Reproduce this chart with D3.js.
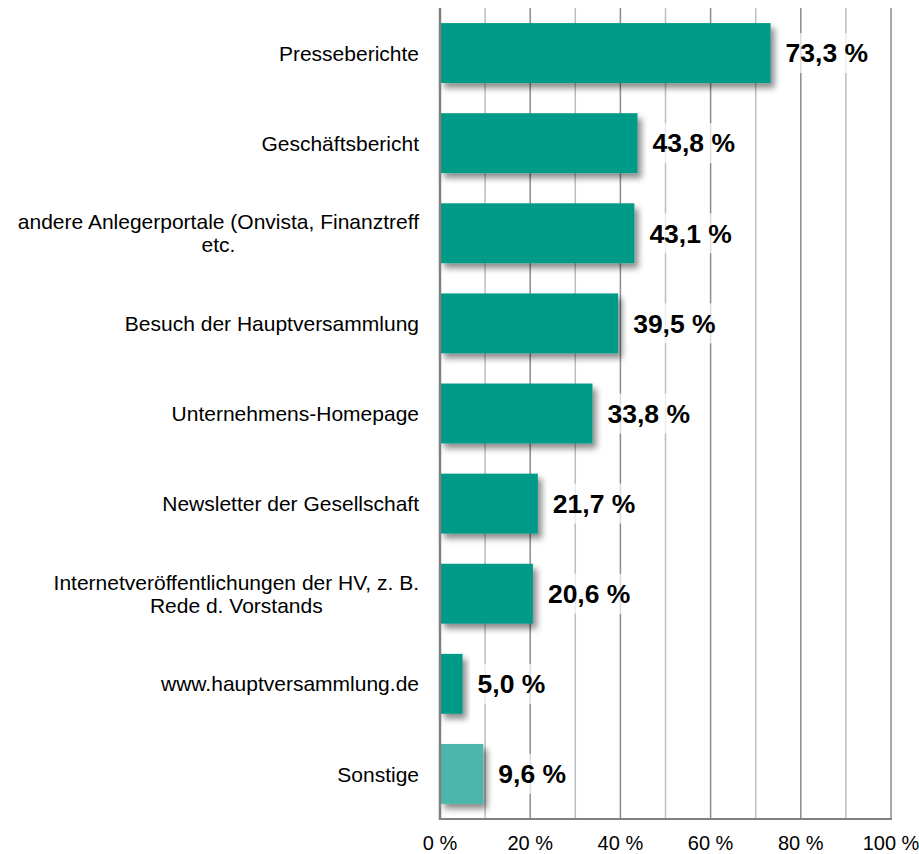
<!DOCTYPE html>
<html>
<head>
<meta charset="utf-8">
<script src="https://cdn.jsdelivr.net/npm/d3@7"></script>
<style>
  html, body { margin: 0; padding: 0; background: #fff; }
  svg { display: block; font-family: Arial, "Liberation Sans", sans-serif; }
</style>
</head>
<body>
<svg id="chart" width="919" height="854"></svg>
<script>
const categories = [
  ["Presseberichte"],
  ["Geschäftsbericht"],
  ["andere Anlegerportale (Onvista, Finanztreff", "etc."],
  ["Besuch der Hauptversammlung"],
  ["Unternehmens-Homepage"],
  ["Newsletter der Gesellschaft"],
  ["Internetveröffentlichungen der HV, z. B.", "Rede d. Vorstands"],
  ["www.hauptversammlung.de"],
  ["Sonstige"]
];
const values = [73.3, 43.8, 43.1, 39.5, 33.8, 21.7, 20.6, 5.0, 9.6];
const valueLabels = ["73,3 %", "43,8 %", "43,1 %", "39,5 %", "33,8 %", "21,7 %", "20,6 %", "5,0 %", "9,6 %"];
const tickValues = [0, 20, 40, 60, 80, 100];
const tickLabels = ["0 %", "20 %", "40 %", "60 %", "80 %", "100 %"];
const gridValues = [10, 20, 30, 40, 50, 60, 70, 80, 90, 100];
const barColors = ["#009a88", "#009a88", "#009a88", "#009a88", "#009a88", "#009a88", "#009a88", "#009a88", "#4db6ac"];

(function () {
const svg = d3.select("#chart");
const pLeft = 440, pRight = 891, pTop = 8, pBottom = 819;

const x = d3.scaleLinear().domain([0, 100]).range([pLeft, pRight]);
const y = d3.scaleBand().domain(d3.range(categories.length)).range([pTop, pBottom]).paddingInner(0.335).paddingOuter(0.1675);

const defs = svg.append("defs");
const f = defs.append("filter").attr("id", "shadow").attr("x", "-20%").attr("y", "-20%").attr("width", "150%").attr("height", "150%");
f.append("feDropShadow").attr("dx", 4).attr("dy", 5).attr("stdDeviation", 3)
  .attr("flood-color", "#000").attr("flood-opacity", 0.45);

// gridlines
svg.append("g").selectAll("line").data(gridValues).join("line")
  .attr("x1", d => x(d)).attr("x2", d => x(d))
  .attr("y1", pTop).attr("y2", pBottom)
  .attr("stroke", d => d % 20 === 0 ? "#8c8c8c" : "#bdbdbd")
  .attr("stroke-width", 1.5);

// bars
svg.append("g").selectAll("rect").data(values).join("rect")
  .attr("x", x(0))
  .attr("y", (d, i) => y(i))
  .attr("width", d => x(d) - x(0))
  .attr("height", y.bandwidth())
  .attr("fill", (d, i) => barColors[i])
  .attr("filter", "url(#shadow)");

// axes lines
svg.append("line").attr("x1", pLeft).attr("x2", pLeft).attr("y1", pTop).attr("y2", pBottom + 1)
  .attr("stroke", "#808080").attr("stroke-width", 2.5);
svg.append("line").attr("x1", pLeft).attr("x2", pRight + 1).attr("y1", pBottom).attr("y2", pBottom)
  .attr("stroke", "#808080").attr("stroke-width", 2);

// value labels with light backgrounds
const vg = svg.append("g");
values.forEach((v, i) => {
  const cy = y(i) + y.bandwidth() / 2;
  const g = vg.append("g");
  const bg = g.append("rect");
  const t = g.append("text")
    .attr("x", x(v) + 15)
    .attr("y", cy)
    .attr("dy", "0.35em")
    .attr("font-size", 26.5)
    .attr("font-weight", "bold")
    .attr("fill", "#000")
    .text(valueLabels[i]);
  const b = t.node().getBBox();
  bg.attr("x", b.x - 6).attr("y", cy - 20).attr("width", b.width + 12).attr("height", 40)
    .attr("fill", "#fff").attr("fill-opacity", 0.7);
});

// category labels
const cg = svg.append("g");
categories.forEach((lines, i) => {
  const cy = y(i) + y.bandwidth() / 2;
  const lh = 23;
  const t = cg.append("text").attr("font-size", 21).attr("fill", "#000").attr("text-anchor", "middle");
  const spans = lines.map((ln, k) => t.append("tspan")
    .attr("y", cy + (k - (lines.length - 1) / 2) * lh)
    .attr("dy", "0.36em")
    .text(ln));
  const widths = spans.map(s => s.node().getComputedTextLength());
  const maxW = d3.max(widths);
  const cx = 419 - maxW / 2;
  spans.forEach(s => s.attr("x", cx));
});

// tick labels
svg.append("g").selectAll("text").data(tickValues).join("text")
  .attr("x", d => x(d))
  .attr("y", 850)
  .attr("text-anchor", "middle")
  .attr("font-size", 20)
  .attr("fill", "#000")
  .text((d, i) => tickLabels[i]);
})();
</script>
</body>
</html>
